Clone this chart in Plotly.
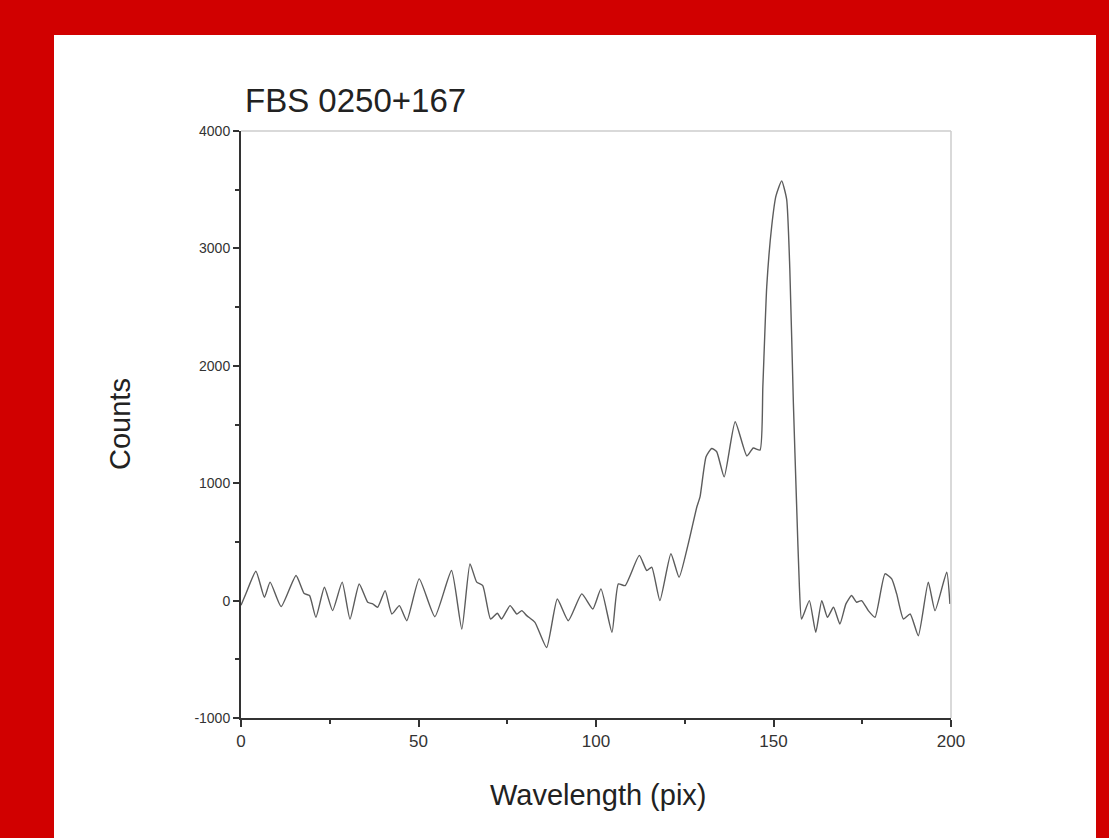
import plotly.graph_objects as go

wavelength = [0, 1.4, 4.2, 6.6, 8.2, 11.3, 15.5, 17.8, 19.3, 21.1, 23.5, 25.8, 28.5, 30.7, 33.3,
              35.7, 37.1, 38.5, 40.6, 42.5, 44.6, 46.7, 50.2, 54.6, 59.3, 62.2, 64.5, 66.4,
              68.1, 70.3, 72.2, 73.4, 75.8, 77.7, 79.1, 80.5, 82.8, 86.1, 89.1, 92.2, 96.0,
              99.1, 101.4, 104.5, 106.3, 108.2, 112.2, 114.3, 115.7, 118.0, 121.1, 123.4,
              126.0, 128.4, 129.3, 131.0, 132.6, 134.0, 136.1, 139.2, 142.5, 144.3, 146.2,
              147.0, 148.1, 149.5, 150.7, 152.3, 153.7, 154.6, 155.6, 156.5, 157.3, 157.9,
              160.1, 161.9, 163.6, 165.2, 166.9, 168.7, 170.4, 172.0, 173.4, 174.8, 176.7,
              178.6, 181.4, 183.3, 184.7, 186.6, 188.5, 190.8, 193.6, 195.5, 198.8, 199.7]
counts = [-40, 60, 250, 28, 157, -51, 214, 60, 43, -142, 114, -85, 157, -157, 142,
          -14, -28, -57, 85, -114, -43, -171, 185, -137, 256, -242, 313, 157,
          128, -157, -108, -157, -43, -114, -85, -128, -185, -399, 14, -171, 57,
          -71, 100, -270, 142, 128, 385, 256, 285, 0, 399, 199,
          485, 797, 883, 1225, 1296, 1268, 1054, 1524, 1232, 1300, 1282,
          1823, 2678, 3191, 3447, 3575, 3419, 2821, 1681, 826, 114, -157,
          0, -271, 0, -142, -57, -199, -28, 43, -14, 0, -85,
          -142, 228, 185, 57, -157, -114, -299, 157, -85, 242, -28]

x_ticks = [0, 50, 100, 150, 200]
x_labels = ["0", "50", "100", "150", "200"]
y_ticks = [-1000, 0, 1000, 2000, 3000, 4000]
y_labels = ["-1000", "0", "1000", "2000", "3000", "4000"]

fig = go.Figure()
fig.add_trace(go.Scatter(x=wavelength, y=counts, mode="lines",
                         line=dict(color="#5c5c5c", width=1.4, shape="spline", smoothing=0.5),
                         showlegend=False, hoverinfo="skip"))

FONT = "Liberation Sans, Arial, sans-serif"

fig.update_xaxes(range=[0, 200], tickvals=x_ticks, ticktext=x_labels, ticks="outside",
                 ticklen=7, tickwidth=1.5,
                 tickcolor="#333333", showline=True, linecolor="#333333", linewidth=2,
                 showgrid=False, zeroline=False,
                 tickfont=dict(family=FONT, size=17, color="#333333"),
                 minor=dict(dtick=25, tick0=0, ticks="outside", ticklen=4, tickcolor="#333333"))
fig.update_yaxes(range=[-1000, 4000], tickvals=y_ticks, ticktext=y_labels, ticks="outside",
                 ticklen=6, tickwidth=1.5,
                 tickcolor="#333333", showline=True, linecolor="#333333", linewidth=2,
                 showgrid=False, zeroline=False,
                 tickfont=dict(family=FONT, size=14, color="#333333"),
                 minor=dict(dtick=500, tick0=0, ticks="outside", ticklen=4, tickcolor="#333333"))

L, R, T, B = 241, 158, 131, 120
W, H = 1109, 838
pw, ph = W - L - R, H - T - B

def px_x(p):
    return (p - L) / pw

def px_y(p):
    return (H - B - p) / ph

fig.add_shape(type="rect", xref="paper", yref="paper", layer="below",
              x0=px_x(54), x1=px_x(1096), y0=px_y(850), y1=px_y(35),
              fillcolor="white", line=dict(width=0))
fig.add_shape(type="line", xref="paper", yref="paper", x0=0, x1=1, y0=1, y1=1,
              line=dict(color="#cccccc", width=1.5))
fig.add_shape(type="line", xref="paper", yref="paper", x0=1, x1=1, y0=0, y1=1,
              line=dict(color="#cccccc", width=1.5))

fig.add_annotation(text="FBS 0250+167", xref="paper", yref="paper",
                   x=px_x(243), y=px_y(101), xanchor="left", yanchor="middle",
                   showarrow=False,
                   font=dict(family=FONT, size=33, color="#222222"))
fig.add_annotation(text="Wavelength (pix)", xref="paper", yref="paper",
                   x=px_x(598), y=px_y(795), xanchor="center", yanchor="middle",
                   showarrow=False,
                   font=dict(family=FONT, size=29, color="#222222"))
fig.add_annotation(text="Counts", xref="paper", yref="paper",
                   x=px_x(120), y=px_y(424), xanchor="center", yanchor="middle",
                   textangle=-90, showarrow=False,
                   font=dict(family=FONT, size=29, color="#222222"))

fig.update_layout(width=W, height=H, margin=dict(l=L, r=R, t=T, b=B),
                  paper_bgcolor="#d10000", plot_bgcolor="white")

fig.write_html("out.html", config={"displayModeBar": False},
               post_script="document.body.style.margin='0';document.body.style.background='#d10000';")
